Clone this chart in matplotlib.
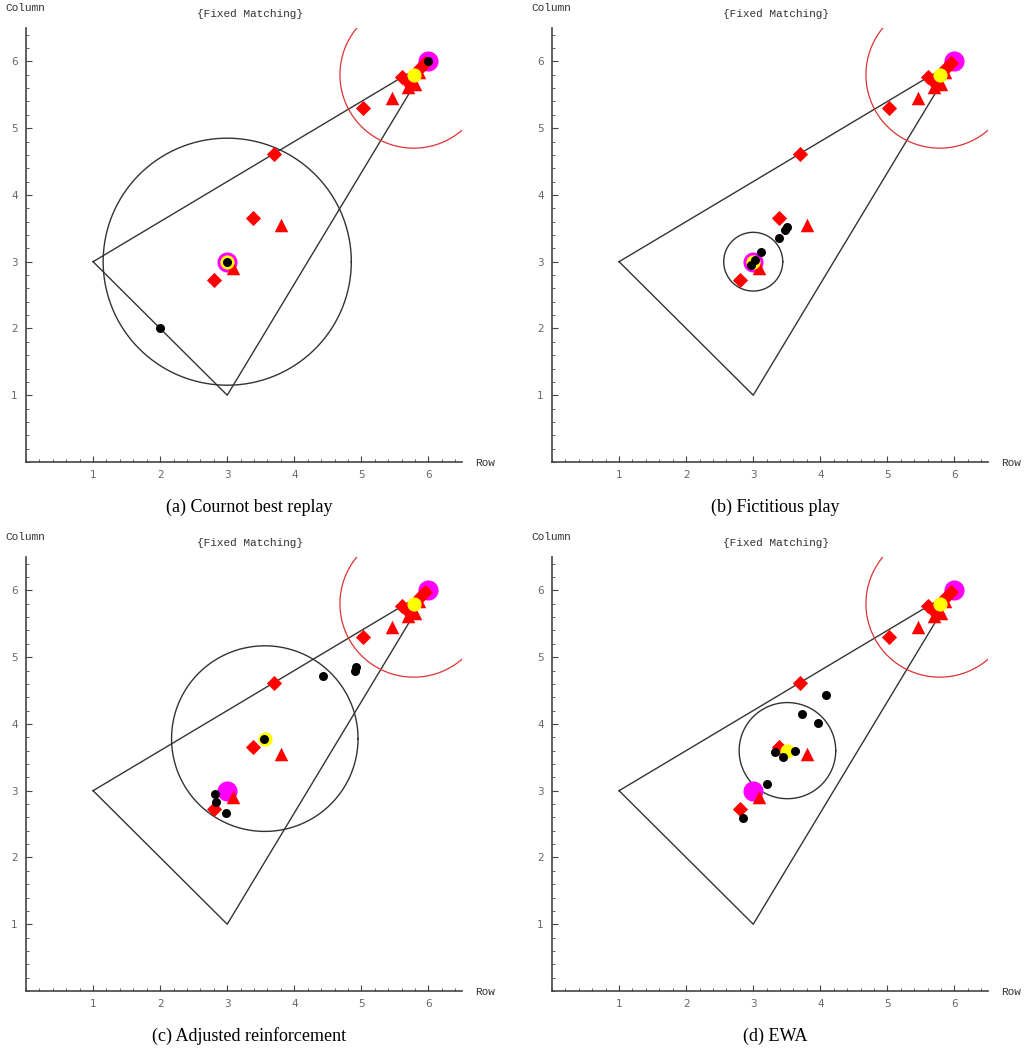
import numpy as np
import matplotlib
matplotlib.use("Agg")
import matplotlib.pyplot as plt
from matplotlib.ticker import MultipleLocator

# triangle of feasible outcomes
tri_x = [1, 3, 6, 1]
tri_y = [3, 1, 6, 3]

# red markers (shared by all panels)
red_dia_x = [3.70, 3.38, 2.80, 5.02, 5.60, 5.68, 5.74, 5.88, 5.95]
red_dia_y = [4.62, 3.66, 2.72, 5.30, 5.76, 5.70, 5.64, 5.90, 5.97]
red_tri_x = [3.80, 3.08, 5.45, 5.70, 5.80, 5.86]
red_tri_y = [3.55, 2.90, 5.45, 5.62, 5.66, 5.84]

# red circle around the fixed-matching prediction
red_cx, red_cy, red_r = 5.78, 5.80, 1.10

magenta_x = [3.0, 6.0]
magenta_y = [3.0, 6.0]

captions = ["(a) Cournot best replay", "(b) Fictitious play",
            "(c) Adjusted reinforcement", "(d) EWA"]

# black circle centre / radius per panel
circ_cx = [3.00, 3.00, 3.56, 3.51]
circ_cy = [3.00, 3.00, 3.78, 3.60]
circ_r = [1.85, 0.44, 1.39, 0.72]

# black dots per panel
dots_x = [
    [2.0, 3.0, 6.0],
    [3.48, 3.50, 3.38, 3.12, 3.02, 2.96],
    [4.43, 4.90, 4.92, 2.82, 2.84, 2.98, 3.55],
    [4.09, 3.73, 3.96, 3.33, 3.45, 3.63, 3.21, 2.85],
]
dots_y = [
    [2.0, 3.0, 6.0],
    [3.48, 3.52, 3.36, 3.14, 3.02, 2.95],
    [4.72, 4.79, 4.85, 2.95, 2.83, 2.66, 3.78],
    [4.43, 4.15, 4.01, 3.58, 3.50, 3.60, 3.10, 2.59],
]

fig = plt.figure(figsize=(10.29, 10.48), dpi=100)
W, H = 1029.0, 1048.0
lefts = [26, 552, 26, 552]
bottoms = [462, 462, 991, 991]
mono = "Liberation Mono"

for i in range(4):
    l, b = lefts[i], bottoms[i]
    ax = fig.add_axes([l / W, 1 - b / H, 436 / W, 434 / H])
    ax.set_xlim(0, 6.5)
    ax.set_ylim(0, 6.5)
    for s in ["top", "right"]:
        ax.spines[s].set_visible(False)
    for s in ["left", "bottom"]:
        ax.spines[s].set_color("#444444")
        ax.spines[s].set_linewidth(1.2)
    ax.xaxis.set_minor_locator(MultipleLocator(0.2))
    ax.yaxis.set_minor_locator(MultipleLocator(0.2))
    ax.set_xticks([1, 2, 3, 4, 5, 6])
    ax.set_yticks([1, 2, 3, 4, 5, 6])
    ax.tick_params(which="major", direction="in", length=4, width=0.8,
                   color="#444444", labelsize=7.5, labelcolor="#666666", pad=6)
    ax.tick_params(which="minor", direction="in", length=2, width=0.6,
                   color="#444444")

    ax.plot(tri_x, tri_y, color="#333333", lw=1.0, zorder=2)
    t = np.linspace(0, 2 * np.pi, 400)
    ax.plot(circ_cx[i] + circ_r[i] * np.cos(t), circ_cy[i] + circ_r[i] * np.sin(t),
            color="#333333", lw=1.0, zorder=2)
    ax.plot(red_cx + red_r * np.cos(t), red_cy + red_r * np.sin(t),
            color="#dd3333", lw=0.9, zorder=2)

    ax.scatter(magenta_x, magenta_y, s=210, color="#ff00ff", zorder=3, linewidths=0)
    ax.scatter(red_dia_x, red_dia_y, s=60, marker="D", color="#ff0000", zorder=4, linewidths=0)
    ax.scatter(red_tri_x, red_tri_y, s=95, marker="^", color="#ff0000", zorder=4, linewidths=0)
    ax.scatter([red_cx, circ_cx[i]], [red_cy, circ_cy[i]], s=105, color="#ffff00",
               zorder=5, linewidths=0)
    ax.scatter(dots_x[i], dots_y[i], s=42, color="black", zorder=6, linewidths=0)

    # labels in Mathematica style
    fig.text((l - 21) / W, 1 - (b - 454) / H, "Column", fontsize=8, family=mono,
             color="#333333", ha="left", va="center")
    fig.text((l + 449) / W, 1 - (b + 1) / H, "Row", fontsize=8, family=mono,
             color="#333333", ha="left", va="center")
    fig.text((l + 224) / W, 1 - (b - 448) / H, "{Fixed Matching}", fontsize=8,
             family=mono, color="#333333", ha="center", va="center")
    fig.text((l + 223) / W, 1 - (b + 45) / H, captions[i], fontsize=13,
             family="Liberation Serif", color="black", ha="center", va="center")

fig.savefig("out.png", dpi=100)
